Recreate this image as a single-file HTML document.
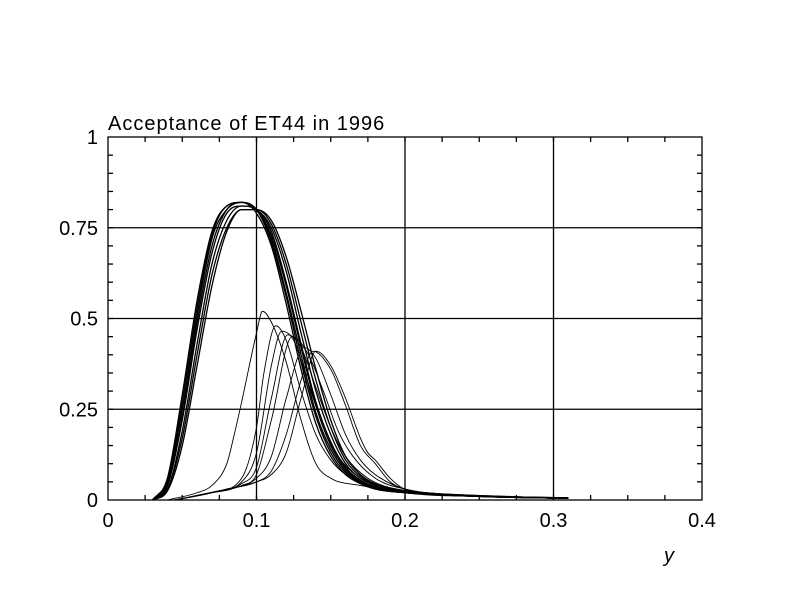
<!DOCTYPE html>
<html><head><meta charset="utf-8"><style>
html,body{margin:0;padding:0;background:#fff;}
svg{display:block;font-family:"Liberation Sans",sans-serif;}
</style></head><body>
<svg id="chart" width="792" height="612" viewBox="0 0 792 612" xmlns="http://www.w3.org/2000/svg">
<rect x="0" y="0" width="792" height="612" fill="#fff"/>
<text x="108" y="130" font-size="20" fill="#000" letter-spacing="1">Acceptance of ET44 in 1996</text>
<g id="grid"></g>
<g id="axes"></g>
<g id="curves"></g>
<text x="664" y="562" font-size="20" font-style="italic" fill="#000">y</text>
</svg>
<script>
const xTicks = [0, 0.1, 0.2, 0.3, 0.4];
const xTickLabels = ["0", "0.1", "0.2", "0.3", "0.4"];
const yTicks = [0, 0.25, 0.5, 0.75, 1];
const yTickLabels = ["0", "0.25", "0.5", "0.75", "1"];
const mainX = [0.03,0.04,0.05,0.06,0.07,0.08,0.09,0.1,0.11,0.12,0.13,0.14,0.15,0.16,0.17,0.18,0.2,0.22,0.25,0.28,0.31];
const main1 = [0,0.06,0.29,0.55,0.74,0.81,0.82,0.79,0.70,0.54,0.36,0.21,0.12,0.07,0.045,0.03,0.02,0.015,0.01,0.007,0.005];
const main2 = [0,0.05,0.27,0.53,0.73,0.81,0.82,0.80,0.71,0.56,0.38,0.23,0.13,0.075,0.048,0.032,0.02,0.015,0.01,0.007,0.005];
const main3 = [0,0.05,0.25,0.51,0.72,0.80,0.82,0.80,0.72,0.57,0.40,0.24,0.14,0.08,0.05,0.033,0.021,0.015,0.01,0.007,0.005];
const main4 = [0,0.04,0.23,0.49,0.70,0.80,0.82,0.80,0.73,0.59,0.42,0.26,0.15,0.085,0.052,0.035,0.022,0.016,0.01,0.007,0.005];
const main5 = [0,0.04,0.22,0.47,0.68,0.79,0.81,0.80,0.74,0.60,0.43,0.27,0.16,0.09,0.055,0.036,0.022,0.016,0.01,0.007,0.005];
const main6 = [0,0.03,0.19,0.43,0.65,0.77,0.81,0.80,0.75,0.63,0.46,0.30,0.18,0.10,0.06,0.04,0.024,0.017,0.011,0.008,0.006];
const main7 = [0,0.03,0.17,0.40,0.62,0.75,0.80,0.80,0.76,0.65,0.49,0.33,0.20,0.11,0.065,0.042,0.025,0.018,0.012,0.008,0.006];
const main8 = [0,0.025,0.15,0.37,0.59,0.74,0.80,0.80,0.77,0.67,0.52,0.36,0.22,0.12,0.07,0.045,0.026,0.018,0.012,0.008,0.006];
const small1X = [0.04,0.06,0.07,0.08,0.085,0.09,0.1,0.104,0.11,0.12,0.13,0.14,0.15,0.17,0.2,0.25,0.3];
const small1Y = [0,0.02,0.04,0.1,0.18,0.27,0.46,0.52,0.49,0.38,0.22,0.1,0.06,0.04,0.02,0.01,0.005];
const small2X = [0.045,0.07,0.09,0.1,0.105,0.113,0.12,0.13,0.14,0.15,0.16,0.18,0.2,0.25,0.3];
const small2Y = [0,0.02,0.06,0.2,0.35,0.48,0.44,0.30,0.18,0.11,0.07,0.03,0.02,0.01,0.005];
const small3X = [0.045,0.07,0.09,0.1,0.11,0.117,0.125,0.135,0.145,0.155,0.17,0.2,0.25,0.3];
const small3Y = [0,0.02,0.05,0.13,0.37,0.465,0.44,0.32,0.2,0.12,0.06,0.02,0.01,0.005];
const small4X = [0.045,0.07,0.09,0.1,0.11,0.121,0.13,0.14,0.15,0.16,0.175,0.2,0.25,0.3];
const small4Y = [0,0.02,0.045,0.09,0.28,0.455,0.42,0.31,0.2,0.12,0.06,0.025,0.01,0.005];
const small5X = [0.045,0.07,0.09,0.1,0.11,0.124,0.135,0.145,0.155,0.165,0.18,0.2,0.25,0.3];
const small5Y = [0,0.02,0.04,0.07,0.22,0.45,0.40,0.30,0.19,0.12,0.06,0.03,0.01,0.005];
const small6X = [0.045,0.08,0.1,0.11,0.12,0.132,0.14,0.15,0.16,0.17,0.18,0.2,0.25,0.3];
const small6Y = [0,0.03,0.06,0.12,0.28,0.42,0.39,0.29,0.18,0.11,0.07,0.03,0.01,0.005];
const small7X = [0.045,0.08,0.1,0.11,0.12,0.13,0.138,0.15,0.16,0.17,0.18,0.19,0.2,0.25,0.3];
const small7Y = [0,0.03,0.05,0.08,0.18,0.33,0.41,0.36,0.26,0.15,0.1,0.05,0.03,0.01,0.005];
const small8X = [0.045,0.08,0.1,0.11,0.12,0.13,0.14,0.15,0.16,0.17,0.175,0.18,0.19,0.2,0.25,0.3];
const small8Y = [0,0.03,0.05,0.07,0.13,0.28,0.41,0.37,0.28,0.17,0.13,0.11,0.06,0.03,0.01,0.005];

const NS = "http://www.w3.org/2000/svg";
const X0 = 108, X1 = 702, Y0 = 500, Y1 = 137;
function sx(v){ return X0 + v / 0.4 * (X1 - X0); }
function sy(v){ return Y0 - v * (Y0 - Y1); }
function mk(tag, attrs, parent){
  const e = document.createElementNS(NS, tag);
  for (const k in attrs) e.setAttribute(k, attrs[k]);
  parent.appendChild(e); return e;
}
const grid = document.getElementById('grid');
const axes = document.getElementById('axes');
const curves = document.getElementById('curves');

xTicks.forEach((t, i) => {
  if (t > 0 && t < 0.4) {
    const l = mk('line', {x1: sx(t), x2: sx(t), y1: Y1, y2: Y0, stroke: '#000', 'stroke-width': 1.3}, grid);
    
    
  }
  const tx = mk('text', {x: sx(t), y: 527, 'font-size': 20, 'text-anchor': 'middle', fill: '#000'}, axes);
  tx.textContent = xTickLabels[i];
  
  
});
yTicks.forEach((t, i) => {
  if (t > 0 && t < 1) {
    const l = mk('line', {x1: X0, x2: X1, y1: sy(t), y2: sy(t), stroke: '#000', 'stroke-width': 1.3}, grid);
    
    
  }
  const tx = mk('text', {x: 98, y: sy(t) + 7, 'font-size': 20, 'text-anchor': 'end', fill: '#000'}, axes);
  tx.textContent = yTickLabels[i];
  
  
});
const frame = mk('rect', {x: X0, y: Y1, width: X1 - X0, height: Y0 - Y1, fill: 'none', stroke: '#000', 'stroke-width': 1.3}, axes);


for (let i = 1; i < 16; i++) {
  const v = i * 0.025, len = 5;
  const a = mk('line', {x1: sx(v), x2: sx(v), y1: Y0, y2: Y0 - len, stroke: '#000', 'stroke-width': 1.3}, axes);
  
  
  const b = mk('line', {x1: sx(v), x2: sx(v), y1: Y1, y2: Y1 + len, stroke: '#000', 'stroke-width': 1.3}, axes);
  
  
}
for (let i = 1; i < 20; i++) {
  const v = i * 0.05, len = 5;
  const a = mk('line', {x1: X0, x2: X0 + len, y1: sy(v), y2: sy(v), stroke: '#000', 'stroke-width': 1.3}, axes);
  
  
  const b = mk('line', {x1: X1, x2: X1 - len, y1: sy(v), y2: sy(v), stroke: '#000', 'stroke-width': 1.3}, axes);
  
  
}

function monoPath(xs, ys){
  const n = xs.length, d = [], m = new Array(n);
  for (let i = 0; i < n - 1; i++) d.push((ys[i+1]-ys[i])/(xs[i+1]-xs[i]));
  m[0] = d[0]; m[n-1] = d[n-2];
  for (let i = 1; i < n - 1; i++) m[i] = (d[i-1]*d[i] <= 0) ? 0 : (d[i-1]+d[i])/2;
  for (let i = 0; i < n - 1; i++) {
    if (d[i] === 0) { m[i] = 0; m[i+1] = 0; continue; }
    const a = m[i]/d[i], b = m[i+1]/d[i], s = a*a + b*b;
    if (s > 9) { const t = 3/Math.sqrt(s); m[i] = t*a*d[i]; m[i+1] = t*b*d[i]; }
  }
  let p = 'M' + sx(xs[0]).toFixed(2) + ' ' + sy(ys[0]).toFixed(2);
  for (let i = 0; i < n - 1; i++) {
    const h = xs[i+1] - xs[i];
    p += ' C' + sx(xs[i]+h/3).toFixed(2) + ' ' + sy(ys[i]+m[i]*h/3).toFixed(2) + ' ' +
         sx(xs[i+1]-h/3).toFixed(2) + ' ' + sy(ys[i+1]-m[i+1]*h/3).toFixed(2) + ' ' +
         sx(xs[i+1]).toFixed(2) + ' ' + sy(ys[i+1]).toFixed(2);
  }
  return p;
}
const mainSeries = [main1, main2, main3, main4, main5, main6, main7, main8];
mainSeries.forEach((ys, i) => {
  const p = mk('path', {d: monoPath(mainX, ys), fill: 'none', stroke: '#000', 'stroke-width': 1.3}, curves);
  
  
});
const smallSeries = [[small1X, small1Y], [small2X, small2Y], [small3X, small3Y], [small4X, small4Y],
                     [small5X, small5Y], [small6X, small6Y], [small7X, small7Y], [small8X, small8Y]];
smallSeries.forEach((s, i) => {
  const p = mk('path', {d: monoPath(s[0], s[1]), fill: 'none', stroke: '#000', 'stroke-width': 0.9}, curves);
  
  
});
</script>
</body></html>
